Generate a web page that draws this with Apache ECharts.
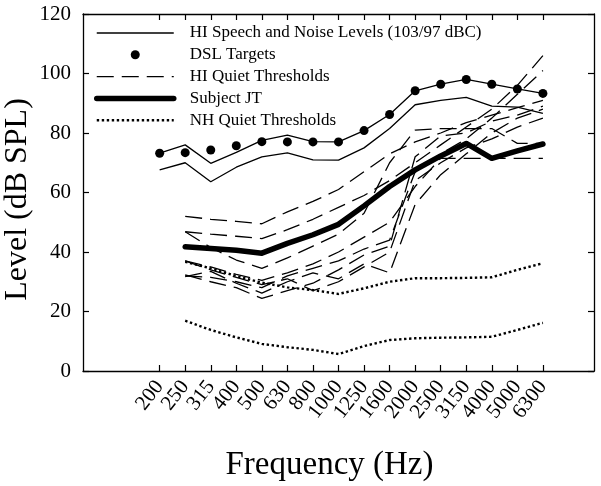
<!DOCTYPE html>
<html><head><meta charset="utf-8">
<script src="https://cdn.jsdelivr.net/npm/echarts@6/dist/echarts.min.js"></script>
<style>html,body{margin:0;padding:0;background:#fff}#c{width:601px;height:486px}</style>
</head><body><div id="c"></div>
<script>
// ---- data ----
const freqLabels = ['200','250','315','400','500','630','800','1000','1250','1600','2000','2500','3150','4000','5000','6300'];
const yTicks = [0, 20, 40, 60, 80, 100, 120];

const dslTargets   = [73.2, 73.4, 74.3, 75.7, 77.1, 77, 77, 77, 80.8, 86.2, 94.2, 96.4, 98.0, 96.4, 94.8, 93.3];
const speechUpper  = [73.2, 76, 69.8, 73.5, 77.5, 79.3, 77.1, 77, 80.8, 86.2, 94.2, 96.4, 98, 96.4, 94.8, 93.3];
const speechLower  = [67.6, 70, 63.6, 68.5, 72, 73.3, 71, 70.9, 75, 81.5, 89.5, 91, 92, 89, 88.7, 86.6];
const subjectJT    = [null, 41.8, 41.2, 40.6, 39.6, 42.9, 45.8, 49.3, 55.5, 62, 67.6, 72.3, 76.5, 71.5, 74, 76.3];
const nhUpper      = [null, 36.7, 34.5, 31.9, 29.7, 28.1, 27.2, 25.9, 27.8, 30, 31.2, 31.2, 31.3, 31.5, 34, 36.2];
const nhLower      = [null, 16.9, 13.8, 11.3, 9.1, 8, 7.1, 5.7, 8.4, 10.4, 11, 11.2, 11.3, 11.5, 13.8, 16.2];

const hiQuiet1 = [null, 52, 51, 50.3, 49.5, 53.5, 57, 61, 67, 73, 77, 80, 83.5, 86, 88.5, 91];
const hiQuiet2 = [null, 46.8, 46, 45.3, 44.5, 47.5, 51, 55, 59, 64, 70, 76, 82, 88, 96, 106];
const hiQuiet3 = [null, 46.8, 41.5, 37.3, 34.5, 38, 42, 46, 53, 70, 81, 81.5, 81.5, 81.5, 76.5, 76.5];
const hiQuiet4 = [null, 37, 35, 32.5, 30.5, 33, 36, 40, 45, 50, 62, 71.5, 71.5, 71.5, 71.5, 71.5];
const hiQuiet5 = [null, 32, 31.5, 30, 28, 32, 34.5, 37, 41, 44, 67, 73, 78, 85, 93, 101];
const hiQuiet6 = [null, 31.7, 33.5, 29.5, 26.2, 30, 33, 31, 36, 33, 56, 66, 73, 80, 85, 88];
const hiQuiet7 = [null, 32.3, 30, 28, 24.4, 27, 29.5, 34, 39, 42, 72, 79, 80, 84, 86, 89];
const hiQuiet8 = [null, 37, 34, 31.5, 29, 31, 27, 30, 35, 40, 64, 70, 75, 78, 82, 85];
const hiQuietSets = [hiQuiet1, hiQuiet2, hiQuiet3, hiQuiet4, hiQuiet5, hiQuiet6, hiQuiet7, hiQuiet8];

const NAME_SPEECH = 'HI Speech and Noise Levels (103/97 dBC)';
const NAME_DSL = 'DSL Targets';
const NAME_HIQ = 'HI Quiet Thresholds';
const NAME_JT = 'Subject JT';
const NAME_NH = 'NH Quiet Thresholds';

// ---- build ----
const PAD_L = 3, PAD_R = 2;
const cats = [];
for (let i = 0; i < PAD_L; i++) cats.push('padL' + i);
freqLabels.forEach(f => cats.push(f));
for (let i = 0; i < PAD_R; i++) cats.push('padR' + i);
const isReal = (idx) => idx >= PAD_L && idx < PAD_L + freqLabels.length;
const toData = arr => arr.map((v, i) => v == null ? null : [PAD_L + i, v]).filter(d => d);

const FONT = 'Liberation Serif';
const black = '#000';
const styleSpeech = { color: black, width: 1.3, type: 'solid' };
const styleHIQ = { color: black, width: 1.3, type: [17, 8] };
const styleJT = { color: black, width: 5.5, type: 'solid', cap: 'round', join: 'round' };
const styleNH = { color: black, width: 2.4, type: [2.4, 2.6] };

const series = [];
series.push({ name: NAME_SPEECH, type: 'line', data: toData(speechUpper), symbol: 'none',
  lineStyle: styleSpeech, itemStyle: { color: black }, z: 3 });
series.push({ name: NAME_SPEECH, type: 'line', data: toData(speechLower), symbol: 'none',
  lineStyle: styleSpeech, itemStyle: { color: black }, z: 3 });
series.push({ name: NAME_DSL, type: 'scatter', data: toData(dslTargets), symbol: 'circle', symbolSize: 9,
  itemStyle: { color: black, opacity: 1 }, z: 5 });
hiQuietSets.forEach(arr => series.push({ name: NAME_HIQ, type: 'line', data: toData(arr), symbol: 'none',
  lineStyle: styleHIQ, itemStyle: { color: black }, z: 2 }));
series.push({ name: NAME_JT, type: 'line', data: toData(subjectJT), symbol: 'none',
  lineStyle: styleJT, itemStyle: { color: black }, z: 4 });
series.push({ name: NAME_NH, type: 'line', data: toData(nhUpper), symbol: 'none',
  lineStyle: styleNH, itemStyle: { color: black }, z: 3 });
series.push({ name: NAME_NH, type: 'line', data: toData(nhLower), symbol: 'none',
  lineStyle: styleNH, itemStyle: { color: black }, z: 3 });

const tickCommon = { show: true, inside: true, length: 6, lineStyle: { color: black, width: 1.2 } };
const hideSym = { opacity: 0 };

const option = {
  backgroundColor: '#fff',
  animation: false,
  grid: { left: 83, right: 7, top: 14, bottom: 115, containLabel: false, outerBoundsMode: 'none' },
  legend: {
    data: [
      { name: NAME_SPEECH, itemStyle: hideSym, lineStyle: styleSpeech },
      { name: NAME_DSL, icon: 'circle', itemStyle: { color: black, opacity: 1 } },
      { name: NAME_HIQ, itemStyle: hideSym, lineStyle: styleHIQ },
      { name: NAME_JT, itemStyle: hideSym, lineStyle: styleJT },
      { name: NAME_NH, itemStyle: hideSym, lineStyle: styleNH }
    ],
    orient: 'vertical', left: 89, top: 19.5,
    itemWidth: 77, itemHeight: 9, itemGap: 4.8,
    selectedMode: false,
    textStyle: { fontFamily: FONT, fontSize: 17, color: black, padding: [0, 0, 0, 11], lineHeight: 17 }
  },
  xAxis: [{
    type: 'category', data: cats, boundaryGap: false, position: 'bottom',
    axisLine: { show: true, onZero: false, lineStyle: { color: black, width: 1.3 } },
    axisTick: Object.assign({}, tickCommon, { interval: (idx) => isReal(idx) }),
    axisLabel: { interval: 0, rotate: 52, fontFamily: FONT, fontSize: 21, color: black, margin: 12,
      formatter: (value, idx) => isReal(idx) ? value : '', hideOverlap: false },
    name: 'Frequency (Hz)', nameLocation: 'middle', nameGap: 78, nameMoveOverlap: false,
    nameTextStyle: { fontFamily: FONT, fontSize: 33, color: black, padding: [0, 18, 0, 0] },
    splitLine: { show: false }
  }, {
    type: 'category', data: cats, boundaryGap: false, position: 'top',
    axisLine: { show: true, onZero: false, lineStyle: { color: black, width: 1.3 } },
    axisTick: Object.assign({}, tickCommon, { interval: (idx) => isReal(idx) }),
    axisLabel: { show: false }, splitLine: { show: false }
  }],
  yAxis: [{
    type: 'value', min: yTicks[0], max: yTicks[yTicks.length - 1], interval: yTicks[1] - yTicks[0], position: 'left',
    axisLine: { show: true, onZero: false, lineStyle: { color: black, width: 1.3 } },
    axisTick: tickCommon,
    axisLabel: { fontFamily: FONT, fontSize: 21, color: black, margin: 12 },
    name: 'Level (dB SPL)', nameLocation: 'middle', nameGap: 49, nameRotate: 90, nameMoveOverlap: false,
    nameTextStyle: { fontFamily: FONT, fontSize: 32, color: black, padding: [0, 14, 0, 0] },
    splitLine: { show: false }
  }, {
    type: 'value', min: yTicks[0], max: yTicks[yTicks.length - 1], interval: yTicks[1] - yTicks[0], position: 'right',
    axisLine: { show: true, onZero: false, lineStyle: { color: black, width: 1.3 } },
    axisTick: tickCommon, axisLabel: { show: false }, splitLine: { show: false }
  }],
  series: series
};
const chart = echarts.init(document.getElementById('c'), null, { renderer: 'canvas' });
chart.setOption(option);
</script>
</body></html>
